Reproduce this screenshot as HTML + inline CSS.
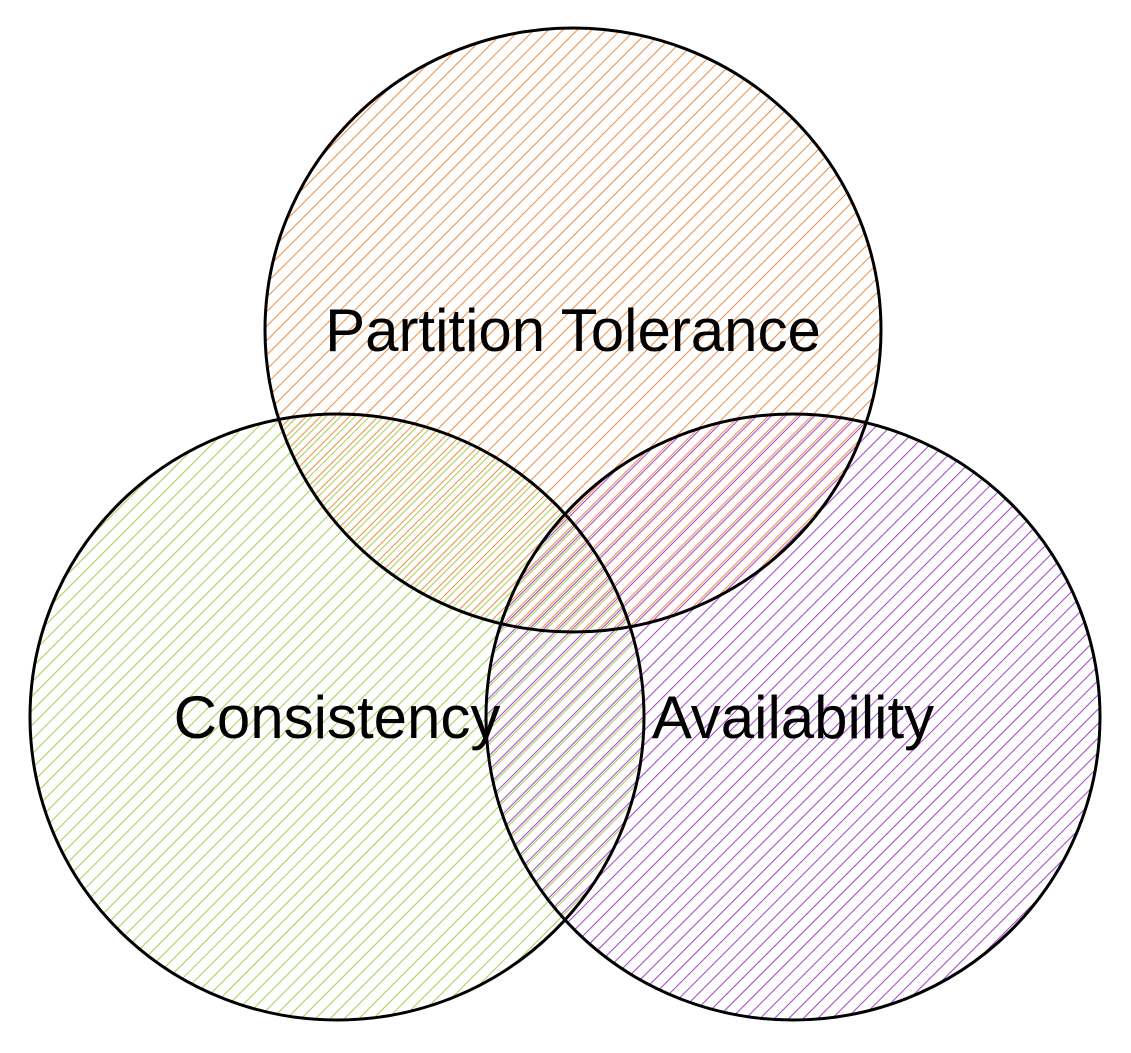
<!DOCTYPE html>
<html><head><style>html,body{margin:0;padding:0;background:#fff;}</style></head>
<body>
<svg width="1131" height="1048" viewBox="0 0 1131 1048" xmlns="http://www.w3.org/2000/svg">
<defs>
<pattern id="po" width="10.2" height="10" patternUnits="userSpaceOnUse" patternTransform="rotate(45)"><line x1="1" y1="0" x2="1" y2="10" stroke="#f08a3c" stroke-width="1"/></pattern>
<pattern id="pg" width="10.2" height="10" patternUnits="userSpaceOnUse" patternTransform="rotate(45) translate(4 0)"><line x1="1" y1="0" x2="1" y2="10" stroke="#a2d04a" stroke-width="1"/></pattern>
<pattern id="pp" width="10.2" height="10" patternUnits="userSpaceOnUse" patternTransform="rotate(45) translate(2 0)"><line x1="1" y1="0" x2="1" y2="10" stroke="#a040cc" stroke-width="1"/></pattern>
</defs>
<ellipse cx="573" cy="330" rx="308" ry="302" fill="url(#po)"/>
<ellipse cx="337" cy="717" rx="307" ry="303" fill="url(#pg)"/>
<ellipse cx="793" cy="717" rx="307" ry="303" fill="url(#pp)"/>
<g fill="none" stroke="#000" stroke-width="3">
<ellipse cx="573" cy="330" rx="308" ry="302"/>
<ellipse cx="337" cy="717" rx="307" ry="303"/>
<ellipse cx="793" cy="717" rx="307" ry="303"/>
</g>
<g font-family="Liberation Sans, Arial, sans-serif" font-size="60" text-anchor="middle" fill="#000">
<text x="573" y="351">Partition Tolerance</text>
<text x="337" y="738">Consistency</text>
<text x="793" y="738">Availability</text>
</g>
</svg>
</body></html>
